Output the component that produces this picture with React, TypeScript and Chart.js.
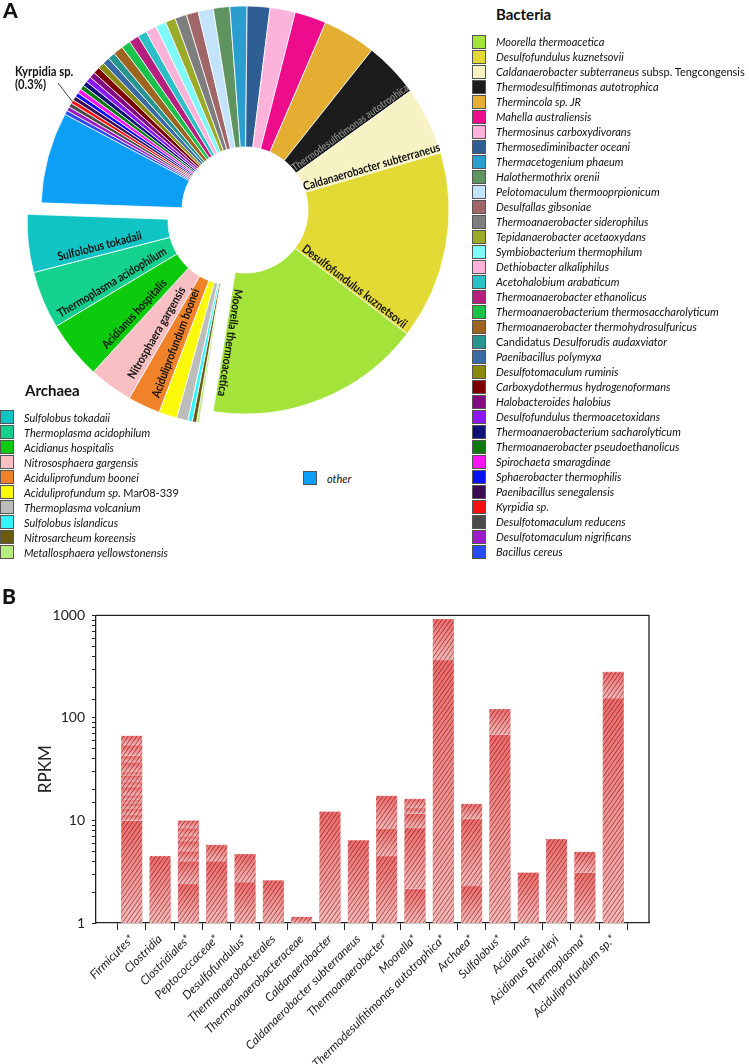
import { useEffect, useRef } from "react"
import { Chart, registerables } from "chart.js"

Chart.register(...registerables)

const FONT = "Lato, 'Open Sans', sans-serif"

// ---------- panel A: share of reads per genome (%) ----------
const bacteriaNames = [
  "Moorella thermoacetica",
  "Desulfofundulus kuznetsovii",
  "Caldanaerobacter subterraneus subsp. Tengcongensis",
  "Thermodesulfitimonas autotrophica",
  "Thermincola sp. JR",
  "Mahella australiensis",
  "Thermosinus carboxydivorans",
  "Thermosediminibacter oceani",
  "Thermacetogenium phaeum",
  "Halothermothrix orenii",
  "Pelotomaculum thermooprpionicum",
  "Desulfallas gibsoniae",
  "Thermoanaerobacter siderophilus",
  "Tepidanaerobacter acetaoxydans",
  "Symbiobacterium thermophilum",
  "Dethiobacter alkaliphilus",
  "Acetohalobium arabaticum",
  "Thermoanaerobacter ethanolicus",
  "Thermoanaerobacterium thermosaccharolyticum",
  "Thermoanaerobacter thermohydrosulfuricus",
  "Candidatus Desulforudis audaxviator",
  "Paenibacillus polymyxa",
  "Desulfotomaculum ruminis",
  "Carboxydothermus hydrogenoformans",
  "Halobacteroides halobius",
  "Desulfofundulus thermoacetoxidans",
  "Thermoanaerobacterium sacharolyticum",
  "Thermoanaerobacter pseudoethanolicus",
  "Spirochaeta smaragdinae",
  "Sphaerobacter thermophilis",
  "Paenibacillus senegalensis",
  "Kyrpidia sp.",
  "Desulfotomaculum reducens",
  "Desulfotomaculum nigrificans",
  "Bacillus cereus",
]
const bacteriaShares = [
  17.1, 14.9, 5.4, 4.4, 4.2, 2.5, 2.0, 1.8, 1.35, 1.3, 1.2, 0.95, 0.92, 0.8, 0.83, 0.86, 0.72, 0.8,
  0.72, 0.78, 0.58, 0.56, 0.5, 0.53, 0.47, 0.44, 0.39, 0.36, 0.36, 0.33, 0.33, 0.3, 0.33, 0.33, 0.33,
]
const bacteriaColors = [
  "#a3e33a", "#e3d934", "#f7f2c4", "#1c1c1c", "#e3ae32", "#ec0c8c", "#fbb3dc", "#2f5e94",
  "#2b9ed0", "#5f9360", "#c2e3fa", "#a06769", "#7e7e7e", "#9aab2a", "#7dfaf9", "#fcb3d9",
  "#2bc0c8", "#b71f7e", "#1ac24c", "#9d6520", "#279690", "#3a6aa6", "#8a8a10", "#7d0000",
  "#830b82", "#8a18f2", "#10127a", "#0d7a10", "#f815f3", "#0a10f5", "#3a0d52", "#f51010",
  "#4a4a4a", "#9b1bc8", "#2a4cf2",
]

const archaeaNames = [
  "Sulfolobus tokadaii",
  "Thermoplasma acidophilum",
  "Acidianus hospitalis",
  "Nitrososphaera gargensis",
  "Aciduliprofundum boonei",
  "Aciduliprofundum sp. Mar08-339",
  "Thermoplasma volcanium",
  "Sulfolobus islandicus",
  "Nitrosarcheum koreensis",
  "Metallosphaera yellowstonensis",
]
const archaeaShares = [4.58, 4.56, 4.61, 3.47, 2.58, 1.44, 0.89, 0.36, 0.33, 0.22]
const archaeaColors = [
  "#10c4c4", "#14d18e", "#0ccb0c", "#f9c0c3", "#f08229", "#fafa0a", "#bcbcbc", "#33f4f8",
  "#6a5b13", "#b9ec80",
]

const otherName = "other"
const otherShare = 7.22
const otherColor = "#0d9ef5"

// names printed on the ring: [slice, text]
const ringLabels = [
  ["Moorella thermoacetica", "Moorella thermoacetica"],
  ["Desulfofundulus kuznetsovii", "Desulfofundulus kuznetsovii"],
  ["Caldanaerobacter subterraneus subsp. Tengcongensis", "Caldanaerobacter subterraneus"],
  ["Thermodesulfitimonas autotrophica", "Thermodesulfitimonas autotrophica"],
  ["Sulfolobus tokadaii", "Sulfolobus tokadaii"],
  ["Thermoplasma acidophilum", "Thermoplasma acidophilum"],
  ["Acidianus hospitalis", "Acidianus hospitalis"],
  ["Nitrososphaera gargensis", "Nitrosphaera gargensis"],
  ["Aciduliprofundum boonei", "Aciduliprofundum boonei"],
]
const calloutName = "Kyrpidia sp."

// ---------- panel B: RPKM, cumulative top of each stacked band ----------
const taxa = [
  "Firmicutes*",
  "Clostridia",
  "Clostridiales*",
  "Peptococcaceae*",
  "Desulfofundulus*",
  "Thermanaerobacterales",
  "Thermoanaerobacteraceae",
  "Caldanaerobacter",
  "Caldanaerobacter subterraneus",
  "Thermoanaerobacter*",
  "Moorella*",
  "Thermodesulfitimonas autotrophica*",
  "Archaea*",
  "Sulfolobus*",
  "Acidianus",
  "Acidianus Brierleyi",
  "Thermoplasma*",
  "Aciduliprofundum sp.*",
]
const rpkmBands = [
  [10, 11.3, 13.1, 14.7, 15.8, 17.6, 21.2, 23.7, 27.5, 29.6, 36.9, 42.8, 54.2, 67],
  [4.5],
  [2.4, 4.0, 5.0, 6.3, 7.0, 8.4, 10],
  [4.0, 5.8],
  [2.5, 4.7],
  [2.6],
  [1.15],
  [12.2],
  [6.4],
  [4.5, 8.3, 17.4],
  [2.16, 8.5, 11.7, 13.2, 16.3],
  [370, 920],
  [2.3, 10.4, 14.5],
  [69, 122],
  [3.1],
  [6.6],
  [3.1, 4.95],
  [156, 281],
]
const yTickValues = [1, 10, 100, 1000]

const uprightParts = ["subsp. Tengcongensis", "Candidatus", "Mar08-339"]

function SpeciesName({ name }: { name: string }) {
  const part = uprightParts.find((p) => name.includes(p))
  if (!part) return <i>{name}</i>
  const [a, b] = name.split(part)
  return (
    <>
      {a && <i>{a}</i>}
      <span>{part}</span>
      {b && <i>{b}</i>}
    </>
  )
}

function LegendRows({ names, colors, left, top }: any) {
  return (
    <>
      {names.map((n: string, i: number) => (
        <div
          key={n}
          style={{
            position: "absolute",
            left,
            top: top + i * 15 - 7.5,
            height: 15,
            display: "flex",
            alignItems: "center",
            whiteSpace: "nowrap",
          }}
        >
          <div
            style={{
              width: 12,
              height: 12,
              background: colors[i],
              border: "1px solid #555",
              marginRight: 10,
            }}
          />
          <span style={{ fontSize: 11, color: "#111" }}>
            <SpeciesName name={n} />
          </span>
        </div>
      ))}
    </>
  )
}

function RingChart() {
  const ref = useRef<HTMLCanvasElement>(null)

  useEffect(() => {
    if (!ref.current) return
    // clockwise from the bottom: archaea, other, bacteria (legend order reversed)
    const names = [...[...archaeaNames].reverse(), otherName, ...[...bacteriaNames].reverse()]
    const shares = [...[...archaeaShares].reverse(), otherShare, ...[...bacteriaShares].reverse()]
    const colors = [...[...archaeaColors].reverse(), otherColor, ...[...bacteriaColors].reverse()]
    const isArchaea = names.map((n) => archaeaNames.includes(n))

    const archaeaShift = (chart: any) => {
      const arcs = chart.getDatasetMeta(0).data.filter((_: any, j: number) => isArchaea[j])
      const mid = (arcs[0].startAngle + arcs[arcs.length - 1].endAngle) / 2
      return [Math.cos(mid) * 18, Math.sin(mid) * 18]
    }
    const shiftOf = (chart: any, j: number) => (isArchaea[j] ? archaeaShift(chart) : [0, 0])

    const ringPlugin = {
      id: "ringDecor",
      beforeDatasetDraw(chart: any, args: any) {
        const ctx = chart.ctx
        args.meta.data.forEach((arc: any, j: number) => {
          const [dx, dy] = shiftOf(chart, j)
          ctx.save()
          ctx.translate(dx, dy)
          arc.draw(ctx)
          ctx.restore()
        })
        return false
      },
      afterDatasetsDraw(chart: any) {
        const ctx = chart.ctx
        const arcs = chart.getDatasetMeta(0).data
        ctx.save()
        ctx.textAlign = "center"
        ctx.textBaseline = "alphabetic"
        ringLabels.forEach(([slice, text]) => {
          const j = names.indexOf(slice)
          const arc = arcs[j]
          const [dx, dy] = shiftOf(chart, j)
          const rMid = (arc.innerRadius + arc.outerRadius) / 2
          const onDark = slice === "Thermodesulfitimonas autotrophica"
          ctx.save()
          ctx.translate(arc.x + dx, arc.y + dy)
          if (isArchaea[j]) {
            ctx.rotate(arc.startAngle + Math.PI)
            ctx.translate(-rMid, -5)
          } else {
            ctx.rotate(arc.endAngle)
            ctx.translate(rMid, -2)
          }
          ctx.scale(0.85, 1)
          ctx.font = onDark ? `600 10.5px ${FONT}` : `bold 12px ${FONT}`
          ctx.fillStyle = onDark ? "#8c8c8c" : "#111"
          ctx.fillText(text, 0, 0)
          ctx.restore()
        })

        // callout for the smallest labelled slice
        const k = names.indexOf(calloutName)
        const arc = arcs[k]
        const mid = (arc.startAngle + arc.endAngle) / 2
        ctx.strokeStyle = "#111"
        ctx.lineWidth = 0.8
        ctx.beginPath()
        ctx.moveTo(58, 83)
        ctx.lineTo(arc.x + Math.cos(mid) * arc.outerRadius, arc.y + Math.sin(mid) * arc.outerRadius)
        ctx.stroke()
        ctx.fillStyle = "#111"
        ctx.textAlign = "left"
        ctx.font = `bold 12.5px ${FONT}`
        ctx.save()
        ctx.translate(15, 76)
        ctx.scale(0.9, 1)
        ctx.fillText(calloutName, 0, 0)
        ctx.fillText(`(${bacteriaShares[bacteriaNames.indexOf(calloutName)]}%)`, 0, 13)
        ctx.restore()
        ctx.restore()
      },
    }

    const chart = new Chart(ref.current, {
      type: "doughnut",
      data: {
        labels: names,
        datasets: [
          {
            data: shares,
            backgroundColor: colors,
            borderColor: "#ffffff",
            borderWidth: 0.8,
          },
        ],
      },
      options: {
        animation: false,
        responsive: true,
        maintainAspectRatio: false,
        rotation: 189,
        radius: 204,
        cutout: "30.9%",
        layout: { padding: { bottom: 30 } },
        plugins: { legend: { display: false }, tooltip: { enabled: false } },
      },
      plugins: [ringPlugin],
    } as any)

    return () => chart.destroy()
  }, [])

  return <canvas ref={ref} />
}

const HATCH = 4.3

function BandChart() {
  const ref = useRef<HTMLCanvasElement>(null)

  useEffect(() => {
    if (!ref.current) return

    const bandFill = (c: any, k: number) => {
      const chart = c.chart
      const y = chart.scales?.y
      if (!y || !c.raw || !chart.chartArea) return "#f79a9a"
      const bands = rpkmBands[c.raw.x]
      const top = y.getPixelForValue(bands[k])
      const bottom = y.getPixelForValue(k ? bands[k - 1] : y.min)
      const g = chart.ctx.createLinearGradient(0, top, 0, bottom)
      g.addColorStop(0, "#f36969")
      g.addColorStop(1, "#fab6b6")
      return g
    }

    const bandCount = Math.max(...rpkmBands.map((b) => b.length))
    const datasets = Array.from({ length: bandCount }, (_, k) => ({
      data: rpkmBands.flatMap((bands, i) =>
        k < bands.length ? [{ x: i, y: bands[k] - (k ? bands[k - 1] : 0) }] : []
      ),
      backgroundColor: (c: any) => bandFill(c, k),
      borderColor: "rgba(240,150,150,0.9)",
      borderWidth: 0.8,
      barThickness: 21,
    }))

    const hatchPlugin = {
      id: "hatch",
      afterDatasetsDraw(chart: any) {
        const ctx = chart.ctx
        const slope = 0.7
        ctx.save()
        ctx.strokeStyle = "rgba(60,20,20,0.85)"
        ctx.lineWidth = 0.65
        chart.data.datasets.forEach((_: any, d: number) => {
          chart.getDatasetMeta(d).data.forEach((bar: any) => {
            const { x, y, base, width } = bar.getProps(["x", "y", "base", "width"], true)
            const left = x - width / 2
            const right = x + width / 2
            const top = Math.min(y, base)
            const bottom = Math.max(y, base)
            ctx.save()
            ctx.beginPath()
            ctx.rect(left, top, width, bottom - top)
            ctx.clip()
            ctx.beginPath()
            const start = Math.floor((left + slope * top) / HATCH) * HATCH
            for (let c = start; c <= right + slope * bottom; c += HATCH) {
              ctx.moveTo(c - slope * top, top)
              ctx.lineTo(c - slope * bottom, bottom)
            }
            ctx.stroke()
            ctx.restore()
          })
        })
        ctx.restore()
      },
      afterDraw(chart: any) {
        const { ctx, chartArea: a } = chart
        ctx.save()
        ctx.strokeStyle = "#222"
        ctx.lineWidth = 1.3
        ctx.beginPath()
        ctx.moveTo(a.left, a.top)
        ctx.lineTo(a.right, a.top)
        ctx.lineTo(a.right, a.bottom)
        ctx.stroke()
        ctx.restore()
      },
    }

    const chart = new Chart(ref.current, {
      type: "bar",
      data: { datasets },
      options: {
        animation: false,
        responsive: true,
        maintainAspectRatio: false,
        layout: { padding: { top: 12, right: 100, left: 0, bottom: 0 } },
        plugins: { legend: { display: false }, tooltip: { enabled: false } },
        scales: {
          x: {
            type: "linear",
            stacked: true,
            min: -0.72,
            max: taxa.length - 1 + 0.72,
            afterBuildTicks: (scale: any) => {
              scale.ticks = taxa.map((_, i) => ({ value: i }))
            },
            afterFit: (scale: any) => {
              scale.height = 141
            },
            grid: { drawOnChartArea: false, drawTicks: true, tickLength: 7, color: "#222" },
            border: { color: "#222", width: 1.3 },
            ticks: {
              autoSkip: false,
              minRotation: 45,
              maxRotation: 45,
              padding: 2,
              color: "#222",
              font: { family: FONT, size: 12, style: "italic" },
              callback: (v: any) => taxa[v] ?? "",
            },
          },
          y: {
            type: "logarithmic",
            stacked: true,
            min: 1,
            max: 1000,
            afterFit: (scale: any) => {
              scale.width = 96
            },
            grid: { drawOnChartArea: false, drawTicks: true, tickLength: 4, color: "#222" },
            border: { color: "#222", width: 1.3 },
            title: {
              display: true,
              text: "RPKM",
              color: "#222",
              font: { family: FONT, size: 17 },
              padding: { top: 35 },
            },
            ticks: {
              autoSkip: false,
              padding: 7,
              color: "#222",
              font: { family: FONT, size: 14 },
              callback: (v: any) => (yTickValues.includes(Number(v)) ? String(v) : ""),
            },
          },
        },
      },
      plugins: [hatchPlugin],
    } as any)

    return () => chart.destroy()
  }, [])

  return <canvas ref={ref} />
}

export default function App() {
  return (
    <div
      style={{
        position: "absolute",
        left: 0,
        top: 0,
        width: 749,
        height: 1064,
        background: "#fff",
        fontFamily: FONT,
        color: "#111",
        overflow: "hidden",
      }}
    >
      <div style={{ position: "absolute", left: 0, top: 0, width: 490, height: 450 }}>
        <RingChart />
      </div>
      <div style={{ position: "absolute", left: 0, top: 600, width: 749, height: 464 }}>
        <BandChart />
      </div>

      <div style={{ position: "absolute", left: 3, top: -3, fontSize: 21, fontWeight: 900 }}>A</div>
      <div style={{ position: "absolute", left: 2, top: 583, fontSize: 21, fontWeight: 900 }}>B</div>

      <div style={{ position: "absolute", left: 496, top: 5, fontSize: 15, fontWeight: 700 }}>Bacteria</div>
      <LegendRows names={bacteriaNames} colors={bacteriaColors} left={472} top={41.7} />

      <div style={{ position: "absolute", left: 25, top: 381, fontSize: 15, fontWeight: 700 }}>Archaea</div>
      <LegendRows names={archaeaNames} colors={archaeaColors} left={0} top={417} />

      <LegendRows names={[otherName]} colors={[otherColor]} left={303} top={478} />
    </div>
  )
}
